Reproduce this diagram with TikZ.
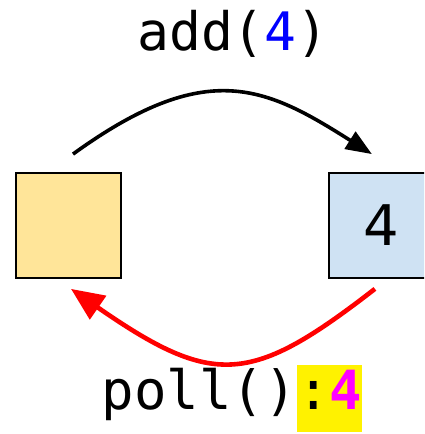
\documentclass[tikz,border=0pt]{standalone}
\usepackage{fontspec}
\setmainfont{DejaVu Sans}
\setmonofont{DejaVu Sans Mono}
\usepackage{tikz}
\usetikzlibrary{positioning,arrows.meta}

\definecolor{slotgold}{HTML}{FFE599}
\definecolor{slotblue}{HTML}{CFE2F3}
\definecolor{pink}{HTML}{FF00FF}

\begin{document}
\begin{tikzpicture}[x=1pt,y=1pt,node distance=206pt,>=Latex,
  slot/.style={draw,line width=1.8pt,minimum size=105pt,inner sep=0pt}]
  \useasboundingbox (0,0) rectangle (424,434);
  \clip (0,0) rectangle (424,434);
  \node[slot,fill=slotgold] (empty) at (68.5,208.5) {};
  \node[slot,fill=slotblue,right=of empty] (full) {\fontsize{56}{60}\selectfont 4};

  \node (add) at (233,400) {\fontsize{53}{56}\selectfont\ttfamily add(\textcolor{blue}{4})};
  \node[anchor=base] (poll) at (232,24)
    {\fontsize{54}{58}\selectfont\ttfamily poll(){\fboxsep=0pt\colorbox{yellow}{\rule[-22pt]{0pt}{67pt}:\textcolor{pink}{\bfseries 4}}}};

  \coordinate (addfrom) at ([shift={(4.5pt,18pt)}]empty.north);
  \coordinate (addto) at ([shift={(44pt,18pt)}]full.north west);
  \coordinate (pollfrom) at ([shift={(47pt,-10pt)}]full.south west);
  \coordinate (pollto) at ([shift={(2.5pt,-10pt)}]empty.south);

  \draw[line width=3.6pt,arrows={-Triangle[length=26pt,width=20pt]}]
    (addfrom) .. controls (207,377) and (266,347) .. (addto);
  \draw[red,line width=4.6pt,arrows={-Triangle[length=33pt,width=28pt]}]
    (pollfrom) .. controls (251,49) and (214,46) .. (pollto);
\end{tikzpicture}
\end{document}
